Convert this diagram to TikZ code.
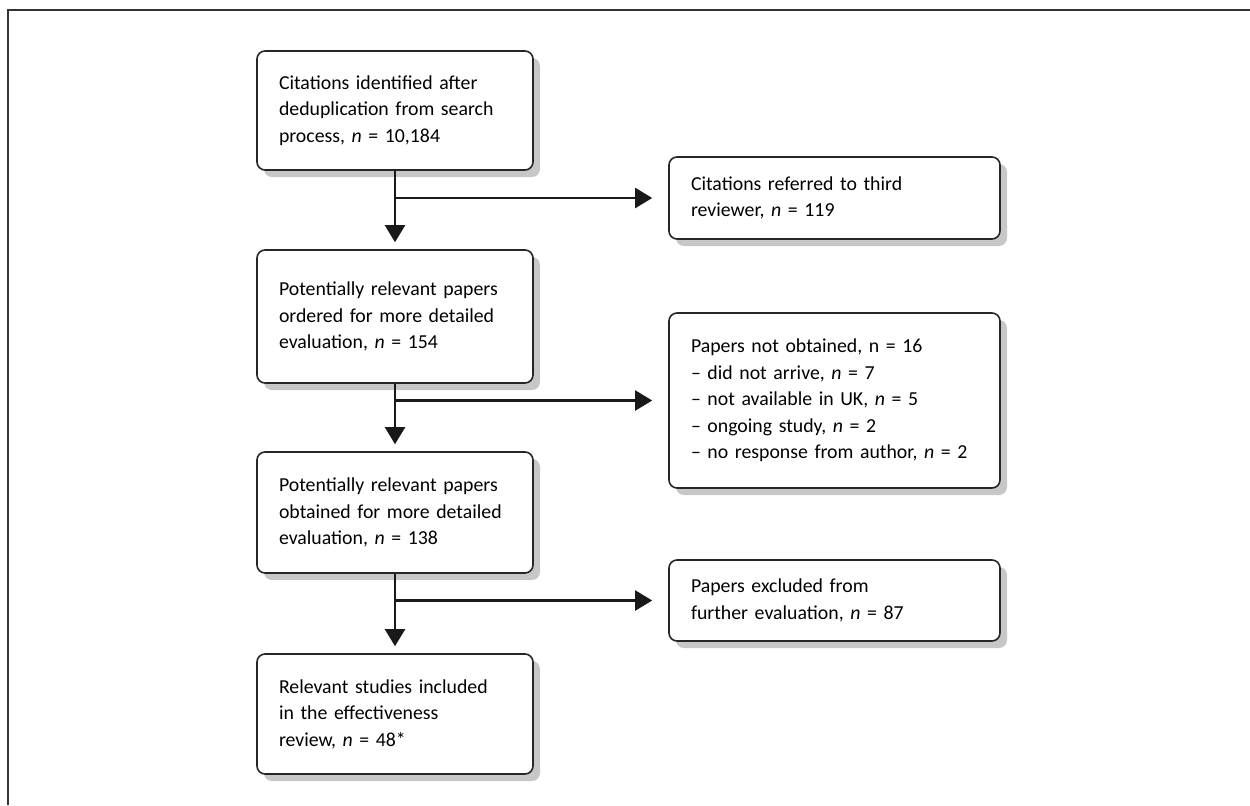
\documentclass[tikz,border=0pt]{standalone}
\usepackage{fontspec}
\setmainfont{Carlito}
\usetikzlibrary{arrows.meta}

\tikzset{
    stagebox/.style={draw=black!85, line width=0.8pt, rounded corners=4pt, fill=white,
        align=left, inner xsep=11pt, inner ysep=0pt,
        font=\fontsize{9.9pt}{13.25pt}\selectfont},
    leftbox/.style={stagebox, text width=116pt, minimum width=138pt},
    rightbox/.style={stagebox, text width=143.5pt, minimum width=165.5pt},
    boxshadow/.style={fill=black!22, rounded corners=4pt},
    flow/.style={line width=1.1pt, black!90, -{Triangle[length=8.5pt, width=10pt]}}
}

\begin{document}
\begin{tikzpicture}[x=0.5pt, y=-0.5pt]
        \useasboundingbox (0,0) rectangle (1250,805);

        % frame
        \draw[line width=1pt, black!80] (8,805) -- (8,10) -- (1250,10);

        % shadows
        \fill[boxshadow] (264,58) rectangle (540,177);
        \fill[boxshadow] (264,257) rectangle (540,390);
        \fill[boxshadow] (264,459) rectangle (540,580);
        \fill[boxshadow] (264,661) rectangle (540,781);
        \fill[boxshadow] (676,164) rectangle (1007,246);
        \fill[boxshadow] (676,320) rectangle (1007,495);
        \fill[boxshadow] (676,567) rectangle (1007,648);

        % main stages
        \node[leftbox, minimum height=59.5pt] (cite) at (395,110.5)
            {Citations identified after\\deduplication from search\\process, \textit{n} = 10,184};
        \node[leftbox, minimum height=66.5pt] (ordered) at (395,316.5)
            {Potentially relevant papers\\ordered for more detailed\\evaluation, \textit{n} = 154};
        \node[leftbox, minimum height=60.5pt] (obtained) at (395,512.5)
            {Potentially relevant papers\\obtained for more detailed\\evaluation, \textit{n} = 138};
        \node[leftbox, minimum height=60pt] (included) at (395,714)
            {Relevant studies included\\in the effectiveness\\review, \textit{n} = 48*};

        % side boxes
        \node[rightbox, minimum height=41pt] (third) at (834.5,198)
            {Citations referred to third\\reviewer, \textit{n} = 119};
        \node[rightbox, minimum height=87.5pt] (notobt) at (834.5,400.5)
            {Papers not obtained, n = 16\\
             -- did not arrive, \textit{n} = 7\\
             -- not available in UK, \textit{n} = 5\\
             -- ongoing study, \textit{n} = 2\\
             -- no response from author, \textit{n} = 2};
        \node[rightbox, minimum height=40.5pt] (excl) at (834.5,600.5)
            {Papers excluded from\\further evaluation, \textit{n} = 87};

        % connectors
        \draw[flow, shorten >=3.5pt] (cite) -- (ordered);
        \draw[flow, shorten >=3.5pt] (ordered) -- (obtained);
        \draw[flow, shorten >=3.5pt] (obtained) -- (included);
        \draw[flow, shorten >=8pt] (cite.south |- third) -- (third);
        \draw[flow, shorten >=8pt] (ordered.south |- notobt) -- (notobt);
        \draw[flow, shorten >=8pt] (obtained.south |- excl) -- (excl);
    \end{tikzpicture}
\end{document}
